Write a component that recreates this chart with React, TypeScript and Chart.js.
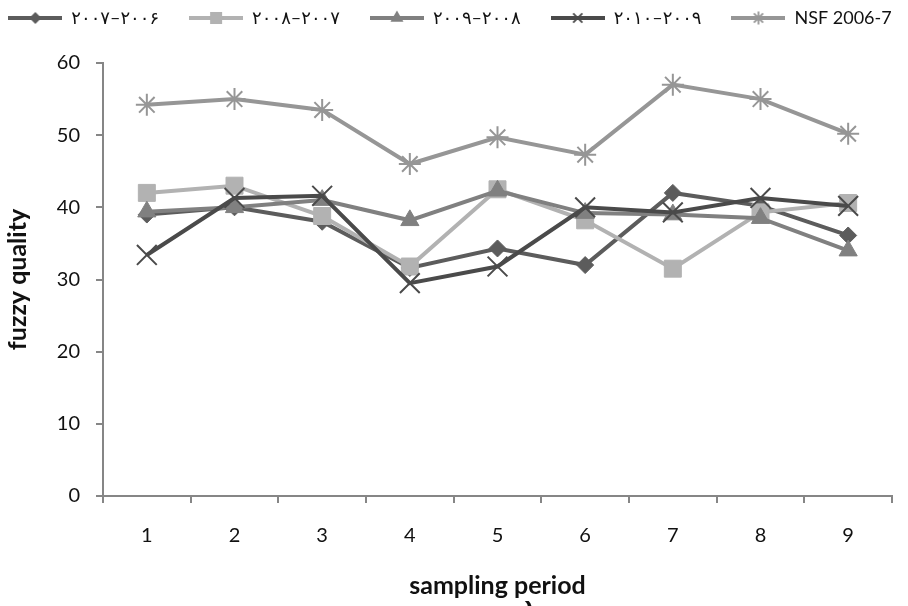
import React, { useEffect, useRef } from "react";
import { Chart, registerables } from "chart.js";

Chart.register(...registerables);

const categories = ["1", "2", "3", "4", "5", "6", "7", "8", "9"];
const seriesNames = ["۲۰۰۷–۲۰۰۶", "۲۰۰۸–۲۰۰۷", "۲۰۰۹–۲۰۰۸", "۲۰۱۰–۲۰۰۹", "NSF 2006-7"];
const s2007 = [39, 40, 38, 31.6, 34.3, 32, 42, 40.2, 36.1];
const s2008 = [42, 43, 38.8, 31.8, 42.5, 38.2, 31.5, 39.3, 40.6];
const s2009 = [39.4, 40, 41, 38.2, 42.3, 39.2, 39, 38.5, 34];
const s2010 = [33.4, 41.3, 41.6, 29.5, 31.8, 40, 39.3, 41.3, 40.2];
const sNSF = [54.2, 55, 53.5, 46, 49.7, 47.3, 57, 55, 50.2];
const yTicks = [0, 10, 20, 30, 40, 50, 60];
const xTitle = "sampling period";
const yTitle = "fuzzy quality";
const figLabel = "د";

const colors = ["#5c5c5c", "#b2b2b2", "#808080", "#4a4a4a", "#969696"];
const styles = ["rectRot", "rect", "triangle", "crossRot", "star"];
const radii = [8.5, 12, 10.5, 14, 11];
const legendRadii = [6, 8.5, 7.5, 6.5, 6.5];
const FONT = "Lato, 'DejaVu Sans', sans-serif";

function drawMarker(ctx: CanvasRenderingContext2D, style: string, x: number, y: number, r: number, color: string) {
  ctx.fillStyle = color;
  ctx.strokeStyle = color;
  ctx.lineWidth = 1.8;
  ctx.beginPath();
  if (style === "rectRot") {
    ctx.moveTo(x, y - r); ctx.lineTo(x + r, y); ctx.lineTo(x, y + r); ctx.lineTo(x - r, y); ctx.closePath(); ctx.fill();
  } else if (style === "rect") {
    const s = r / Math.SQRT2; ctx.fillRect(x - s, y - s, 2 * s, 2 * s);
  } else if (style === "triangle") {
    ctx.moveTo(x, y - r); ctx.lineTo(x + r * 0.866, y + r * 0.5); ctx.lineTo(x - r * 0.866, y + r * 0.5); ctx.closePath(); ctx.fill();
  } else if (style === "crossRot") {
    const s = r * 0.707; ctx.moveTo(x - s, y - s); ctx.lineTo(x + s, y + s); ctx.moveTo(x + s, y - s); ctx.lineTo(x - s, y + s); ctx.stroke();
  } else if (style === "star") {
    const s = r * 0.707; ctx.moveTo(x - s, y - s); ctx.lineTo(x + s, y + s); ctx.moveTo(x + s, y - s); ctx.lineTo(x - s, y + s);
    ctx.moveTo(x, y - r); ctx.lineTo(x, y + r); ctx.stroke();
  }
}

function legendIcon(i: number): HTMLCanvasElement {
  const c = document.createElement("canvas");
  c.width = 54; c.height = 20;
  const ctx = c.getContext("2d")!;
  ctx.strokeStyle = colors[i];
  ctx.lineWidth = 4;
  ctx.beginPath(); ctx.moveTo(0, 10); ctx.lineTo(54, 10); ctx.stroke();
  drawMarker(ctx, styles[i], 27, 10, legendRadii[i], colors[i]);
  return c;
}

const LEGEND_PAD = 30;
const LEGEND_ITEM_CENTER = 18;
const PLOT_TOP = 63;

const legendPatch = {
  id: "legendPatch",
  beforeUpdate(chart: any) {
    const lg = chart.legend;
    if (lg && !lg.__patched) {
      lg.__patched = true;
      const origFit = lg.fit.bind(lg);
      lg.fit = function () {
        const m = this.maxWidth;
        this.maxWidth = m + 200;
        origFit();
        this.maxWidth = m;
        this.width = m;
        this.height = PLOT_TOP;
      };
    }
  },
  afterLayout(chart: any) {
    const lg = chart.legend;
    if (lg) {
      const itemH = 18;
      lg.top = LEGEND_ITEM_CENTER - itemH / 2 - LEGEND_PAD;
      lg.bottom = lg.top + lg.height;
      lg.left = -LEGEND_PAD;
      lg.right = chart.width + 22;
      lg.width = lg.right - lg.left;
    }
  },
};

const figLabelPlugin = {
  id: "figLabel",
  afterDraw(chart: any) {
    const ctx = chart.ctx;
    ctx.save();
    ctx.font = "bold 22px 'DejaVu Sans', sans-serif";
    ctx.fillStyle = "#111";
    ctx.textAlign = "center";
    ctx.textBaseline = "alphabetic";
    ctx.fillText(figLabel, 527, 610);
    ctx.restore();
  },
};

export default function App() {
  const ref = useRef<HTMLCanvasElement | null>(null);
  useEffect(() => {
    document.body.style.margin = "0";
    const values = [s2007, s2008, s2009, s2010, sNSF];
    const icons = values.map((_, i) => legendIcon(i));
    const chart = new Chart(ref.current!, {
      type: "line",
      data: {
        labels: categories,
        datasets: values.map((v, i) => ({
          label: seriesNames[i],
          data: v,
          borderColor: colors[i],
          backgroundColor: colors[i],
          borderWidth: 4,
          pointStyle: styles[i] as any,
          pointRadius: radii[i],
          pointBackgroundColor: colors[i],
          pointBorderColor: colors[i],
          pointBorderWidth: i >= 3 ? 2 : 1,
          tension: 0,
          fill: false,
          order: 5 - i,
        })),
      },
      plugins: [legendPatch, figLabelPlugin],
      options: {
        animation: false,
        responsive: true,
        maintainAspectRatio: false,
        layout: { padding: { left: 0, right: 8, top: 0, bottom: 0 } },
        plugins: {
          tooltip: { enabled: false },
          legend: {
            position: "top",
            labels: {
              usePointStyle: true,
              pointStyleWidth: 54,
              padding: LEGEND_PAD,
              color: "#111",
              font: { family: FONT, size: 18 },
              sort: (a: any, b: any) => a.datasetIndex - b.datasetIndex,
              generateLabels: (ch: any) => {
                const items = Chart.defaults.plugins.legend.labels.generateLabels(ch);
                return items.map((it: any) => ({ ...it, pointStyle: icons[it.datasetIndex] }));
              },
            },
          },
        },
        scales: {
          x: {
            type: "category",
            offset: true,
            grid: { offset: true, drawOnChartArea: false, tickLength: 7, color: "#868686", lineWidth: 2 },
            border: { color: "#868686", width: 2 },
            ticks: { color: "#111", font: { family: FONT, size: 20 }, padding: 21 },
            title: { display: true, text: xTitle, color: "#111", font: { family: FONT, size: 25, weight: "bold" }, padding: { top: 0, bottom: 5 } },
            afterFit: (s: any) => { s.height = 110; },
          },
          y: {
            min: 0,
            max: 60,
            afterBuildTicks: (s: any) => { s.ticks = yTicks.map((v) => ({ value: v })); },
            grid: { drawOnChartArea: false, tickLength: 7, color: "#868686", lineWidth: 2 },
            border: { color: "#868686", width: 2 },
            ticks: { color: "#111", font: { family: FONT, size: 20 }, padding: 16 },
            title: { display: true, text: yTitle, color: "#111", font: { family: FONT, size: 25, weight: "bold" }, padding: { top: 3, bottom: 0 } },
            afterFit: (s: any) => { s.width = 103; },
          },
        },
      },
    });
    return () => chart.destroy();
  }, []);
  return (
    <div style={{ position: "fixed", left: 0, top: 0, width: 908, height: 606, background: "#fff" }}>
      <canvas ref={ref} />
    </div>
  );
}
